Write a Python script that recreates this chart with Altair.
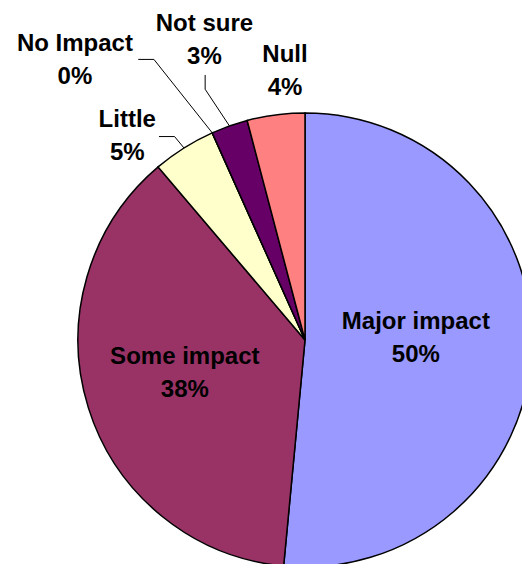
import altair as alt
import pandas as pd
import numpy as np

# ---- data ----
categories = ["Major impact", "Some impact", "Little", "No Impact", "Not sure", "Null"]
values = [51.5, 37.3, 4.5, 0.0, 2.6, 4.1]          # slice sizes (angles as drawn)
pct_labels = ["50%", "38%", "5%", "0%", "3%", "4%"]  # printed percentages
colors = ["#9999FF", "#993366", "#FFFFCC", "#FFFFFF", "#660066", "#FF8080"]

# ---- layout (pixels) ----
W, H = 514, 556
CX, CY = 297, 332      # pie centre inside the plot area
R = 227                # pie radius
FONT = "Liberation Sans"
FS = 24

# label placement: ("inside", radius, dx, dy) or ("leader", v_elbow, v_tail, v_label)
layout = {
    "Major impact": ("inside", 111, 0, -8),
    "Some impact": ("inside", 126, 0, -6),
    "Little": ("leader", (-9.4, -11.4), (-15.6, 0), (-31.7, -1.3)),
    "No Impact": ("leader", (-58.3, -73.4), (-15.7, 0), (-63.3, 0)),
    "Not sure": ("leader", (-24.3, -36.7), (0, -14.3), (-0.7, -35.7)),
    "Null": ("inside", 272.7, 15, 0),
}

pie = pd.DataFrame({"category": categories, "value": values,
                    "order": list(range(len(categories)))})

total = float(sum(values))
cum = np.cumsum([0.0] + values)
label_rows, seg_rows = [], []
for i, c in enumerate(categories):
    mid = (cum[i] + cum[i + 1]) / 2 / total * 2 * np.pi   # clockwise from top
    ux, uy = np.sin(mid), -np.cos(mid)                     # y grows downward
    spec = layout[c]
    if spec[0] == "inside":
        _, r, dx, dy = spec
        lx, ly = r * ux + dx, r * uy + dy
    else:
        _, ve, vt, vl = spec
        sx, sy = R * ux, R * uy
        ex, ey = sx + ve[0], sy + ve[1]
        tx, ty = ex + vt[0], ey + vt[1]
        seg_rows.append({"x": sx, "y": sy, "x2": ex, "y2": ey})
        seg_rows.append({"x": ex, "y": ey, "x2": tx, "y2": ty})
        lx, ly = tx + vl[0], ty + vl[1]
    label_rows.append({"name": c, "pct": pct_labels[i], "x": lx, "y": ly})

labels = pd.DataFrame(label_rows)
segs = pd.DataFrame(seg_rows)

xs = alt.Scale(domain=[-CX, W - CX], nice=False, zero=False)
ys = alt.Scale(domain=[-CY, H - CY], reverse=True, nice=False, zero=False)

arcs = alt.Chart(pie).mark_arc(outerRadius=R, stroke="black", strokeWidth=1.5).encode(
    theta=alt.Theta("value:Q", stack=True),
    order=alt.Order("order:Q"),
    color=alt.Color("category:N", scale=alt.Scale(domain=categories, range=colors), legend=None),
    x=alt.XDatum(0, scale=xs, axis=None),
    y=alt.YDatum(0, scale=ys, axis=None),
)

leaders = alt.Chart(segs).mark_rule(color="black", strokeWidth=1).encode(
    x=alt.X("x:Q", scale=xs, axis=None), y=alt.Y("y:Q", scale=ys, axis=None),
    x2="x2:Q", y2="y2:Q",
)

names = alt.Chart(labels).mark_text(font=FONT, fontSize=FS, fontWeight="bold", color="black",
                                    align="center", baseline="middle", dy=-15).encode(
    x=alt.X("x:Q", scale=xs, axis=None), y=alt.Y("y:Q", scale=ys, axis=None), text="name:N")

pcts = alt.Chart(labels).mark_text(font=FONT, fontSize=FS, fontWeight="bold", color="black",
                                   align="center", baseline="middle", dy=18).encode(
    x=alt.X("x:Q", scale=xs, axis=None), y=alt.Y("y:Q", scale=ys, axis=None), text="pct:N")

chart = alt.layer(arcs, leaders, names, pcts).properties(
    width=W, height=H, autosize=alt.AutoSizeParams(type="none"), padding=0,
).configure_view(stroke=None)

chart.save("out.html", embed_options={"renderer": "svg", "actions": False})
